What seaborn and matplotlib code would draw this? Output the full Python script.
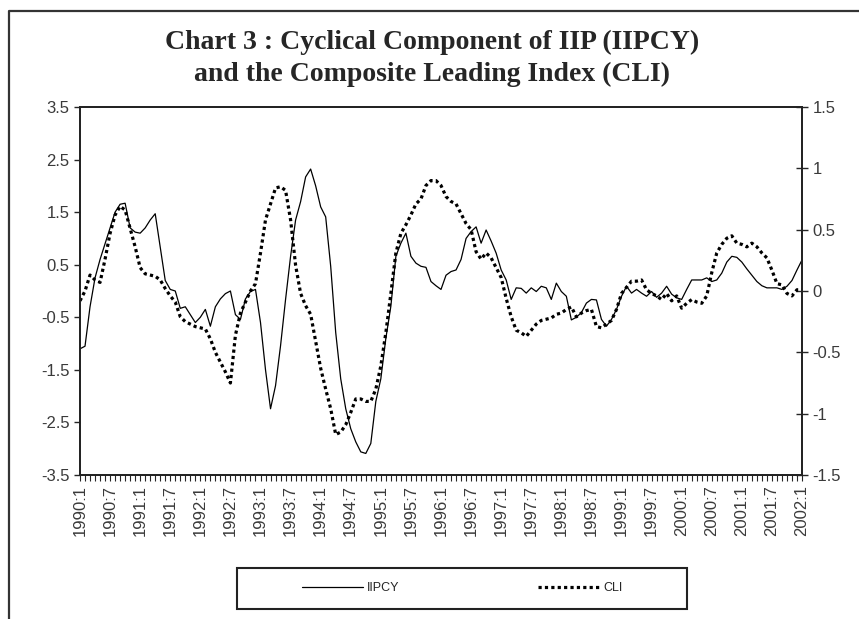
import matplotlib
matplotlib.use("Agg")
import matplotlib.pyplot as plt
import seaborn as sns
import pandas as pd
from matplotlib import font_manager
from matplotlib.patches import Rectangle
from matplotlib.lines import Line2D

# monthly observations 1990:1 .. 2002:1
years = list(range(1990, 2003))
iipcy = [
    -1.10, -1.05, -0.30, 0.25, 0.60, 0.90, 1.20, 1.50, 1.65, 1.67, 1.20, 1.12,
    1.10, 1.20, 1.35, 1.47, 0.84, 0.20, 0.03, 0.00, -0.33, -0.30, -0.45, -0.60,
    -0.50, -0.35, -0.67, -0.30, -0.15, -0.05, 0.00, -0.45, -0.54, -0.15, -0.01, 0.03,
    -0.60, -1.50, -2.24, -1.80, -1.04, -0.16, 0.66, 1.35, 1.70, 2.17, 2.32, 2.00,
    1.60, 1.41, 0.47, -0.79, -1.67, -2.24, -2.62, -2.87, -3.06, -3.09, -2.90, -2.10,
    -1.67, -0.90, -0.29, 0.66, 0.91, 1.10, 0.66, 0.53, 0.47, 0.45, 0.18, 0.10,
    0.03, 0.30, 0.37, 0.40, 0.60, 1.00, 1.13, 1.22, 0.91, 1.16, 0.95, 0.72,
    0.40, 0.21, -0.16, 0.06, 0.05, -0.04, 0.06, -0.01, 0.09, 0.06, -0.16, 0.15,
    -0.01, -0.10, -0.55, -0.50, -0.41, -0.23, -0.16, -0.17, -0.54, -0.67, -0.54, -0.35,
    -0.10, 0.09, -0.04, 0.03, -0.04, -0.10, -0.01, -0.12, -0.04, 0.09, -0.06, -0.13,
    -0.16, 0.03, 0.21, 0.21, 0.21, 0.25, 0.18, 0.21, 0.34, 0.55, 0.66, 0.64,
    0.55, 0.42, 0.30, 0.18, 0.10, 0.06, 0.06, 0.06, 0.03, 0.09, 0.20, 0.40,
    0.59,
]
cli = [
    -0.08, 0.00, 0.13, 0.09, 0.07, 0.26, 0.47, 0.62, 0.69, 0.66, 0.51, 0.36,
    0.19, 0.14, 0.13, 0.12, 0.09, 0.02, -0.04, -0.09, -0.21, -0.25, -0.27, -0.29,
    -0.30, -0.31, -0.39, -0.50, -0.58, -0.66, -0.75, -0.36, -0.18, -0.09, 0.00, 0.06,
    0.31, 0.58, 0.71, 0.84, 0.85, 0.82, 0.58, 0.21, -0.02, -0.12, -0.19, -0.41,
    -0.63, -0.80, -0.96, -1.17, -1.15, -1.09, -0.99, -0.88, -0.88, -0.90, -0.90, -0.80,
    -0.61, -0.34, -0.02, 0.31, 0.47, 0.54, 0.62, 0.71, 0.75, 0.86, 0.90, 0.90,
    0.86, 0.77, 0.73, 0.71, 0.63, 0.55, 0.50, 0.32, 0.26, 0.31, 0.27, 0.19,
    0.11, -0.06, -0.21, -0.32, -0.34, -0.37, -0.32, -0.27, -0.24, -0.23, -0.22, -0.19,
    -0.18, -0.15, -0.13, -0.21, -0.18, -0.16, -0.15, -0.29, -0.30, -0.27, -0.24, -0.15,
    -0.02, 0.03, 0.08, 0.08, 0.09, 0.01, -0.02, -0.04, -0.07, -0.02, -0.08, -0.04,
    -0.14, -0.10, -0.07, -0.09, -0.10, -0.04, 0.15, 0.31, 0.38, 0.43, 0.45, 0.39,
    0.38, 0.36, 0.39, 0.36, 0.31, 0.27, 0.17, 0.06, 0.05, -0.02, -0.04, 0.01,
    0.01,
]
left_ticks = [-3.5, -2.5, -1.5, -0.5, 0.5, 1.5, 2.5, 3.5]
right_ticks = [-1.5, -1, -0.5, 0, 0.5, 1, 1.5]

periods = [f"{y}:{m}" for y in years for m in range(1, 13)][:len(iipcy)]
df = pd.DataFrame({"t": range(len(iipcy)), "IIPCY": iipcy, "CLI": cli})

sns.set_style("ticks")
installed = {f.name for f in font_manager.fontManager.ttflist}
tick_family = "Liberation Sans Narrow" if "Liberation Sans Narrow" in installed else "Liberation Sans"
plt.rcParams["font.family"] = [tick_family, "DejaVu Sans"]

fig = plt.figure(figsize=(8.59, 6.19), dpi=100)
ax = fig.add_axes([80 / 859, 1 - 475 / 619, 722 / 859, 368 / 619])
ax2 = ax.twinx()

sns.lineplot(data=df, x="t", y="IIPCY", ax=ax, color="black", linewidth=0.9)
sns.lineplot(data=df, x="t", y="CLI", ax=ax2, color="black", linewidth=2.3,
             linestyle=(0, (1, 1)))

ax.set_xlim(0, len(iipcy) - 1)
ax.set_ylim(-3.5, 3.5)
ax2.set_ylim(-1.5, 1.5)
ax.set_yticks(left_ticks)
ax.set_yticklabels([f"{v:g}" for v in left_ticks])
ax2.set_yticks(right_ticks)
ax2.set_yticklabels([f"{v:g}" for v in right_ticks])

major = list(range(0, len(periods), 6))
ax.set_xticks(major)
ax.set_xticklabels([periods[i] for i in major], rotation=90, fontsize=12, color="#3a3a3a")
ax.set_xticks(range(len(periods)), minor=True)
ax.tick_params(axis="x", which="both", length=4, width=0.8, direction="out", pad=3)
ax.tick_params(axis="y", length=4, width=1, direction="out", labelsize=12, labelcolor="#3a3a3a")
ax2.tick_params(axis="y", length=8, width=1, direction="inout", labelsize=12, labelcolor="#3a3a3a")
ax.set_xlabel("")
ax.set_ylabel("")
ax2.set_ylabel("")

for a in (ax, ax2):
    for s in a.spines.values():
        s.set_visible(True)
        s.set_linewidth(1.3)
        s.set_color("#222222")

fig.text(432 / 859, 1 - 42 / 619, "Chart 3 : Cyclical Component of IIP (IIPCY)",
         ha="center", va="center", fontsize=20, fontweight="bold",
         family="Liberation Serif")
fig.text(432 / 859, 1 - 74 / 619, "and the Composite Leading Index (CLI)",
         ha="center", va="center", fontsize=20, fontweight="bold",
         family="Liberation Serif")

# legend box
fig.patches.append(Rectangle((237 / 859, 1 - 609 / 619), 450 / 859, 41 / 619,
                             transform=fig.transFigure, fill=False,
                             edgecolor="#222222", linewidth=1.5))
handles = [Line2D([], [], color="black", linewidth=0.9),
           Line2D([], [], color="black", linewidth=2.3, linestyle=(0, (1, 1)))]
fig.legend(handles, ["IIPCY", "CLI"], loc="center", bbox_to_anchor=(462 / 859, 1 - 588 / 619),
           ncol=2, frameon=False, fontsize=9, handlelength=4.9, handletextpad=0.3,
           columnspacing=11.1)

# outer frame (top and left edges visible)
fig.lines.append(Line2D([9 / 859, 9 / 859, 1.0], [0.0, 1 - 11 / 619, 1 - 11 / 619],
                        transform=fig.transFigure, color="#333333", linewidth=1.6))

fig.savefig("out.png", dpi=100)
